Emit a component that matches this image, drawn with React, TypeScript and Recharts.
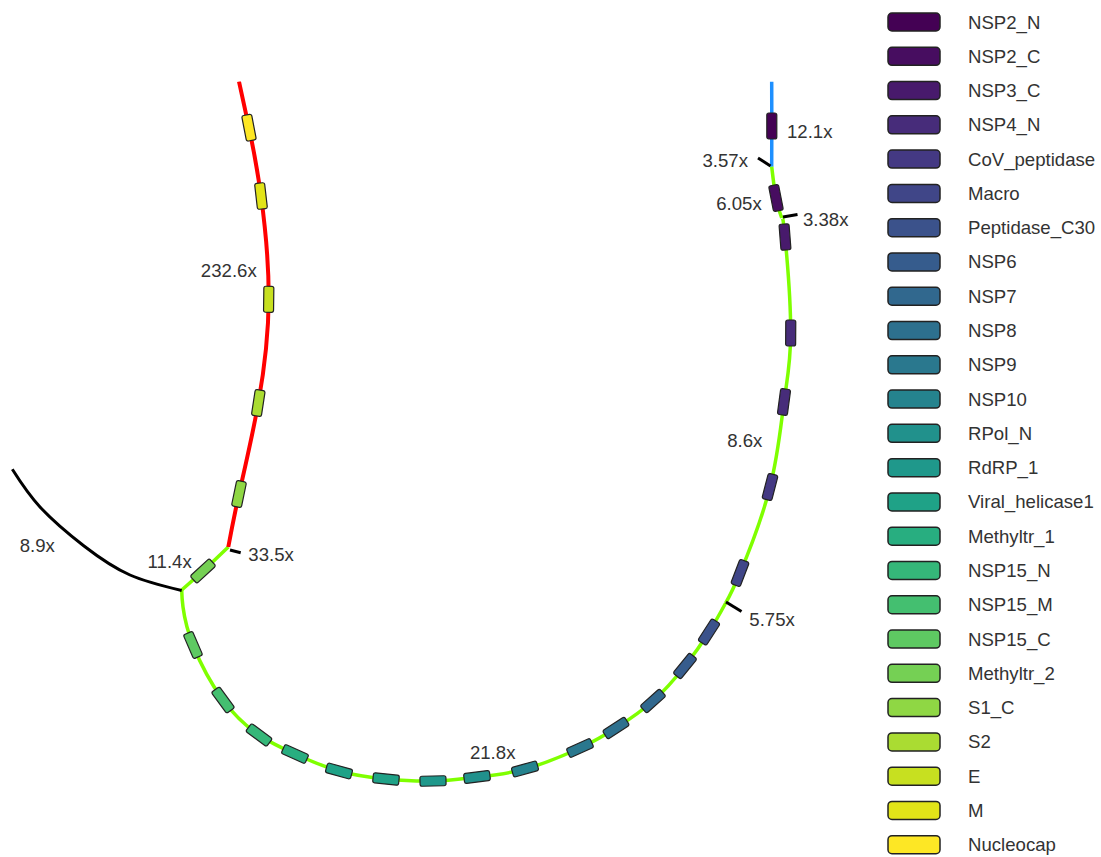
import React from 'react';
import { ComposedChart, Line, Scatter, XAxis, YAxis } from 'recharts';

// domain names in legend order (viridis ramp)
const DOMAINS = [
  'NSP2_N', 'NSP2_C', 'NSP3_C', 'NSP4_N', 'CoV_peptidase', 'Macro', 'Peptidase_C30',
  'NSP6', 'NSP7', 'NSP8', 'NSP9', 'NSP10', 'RPol_N', 'RdRP_1', 'Viral_helicase1',
  'Methyltr_1', 'NSP15_N', 'NSP15_M', 'NSP15_C', 'Methyltr_2', 'S1_C', 'S2', 'E', 'M',
  'Nucleocap',
];

const DOMAIN_COLORS = [
  '#440154', '#470d60', '#481a6c', '#472c7a', '#443983', '#404688', '#3b528b',
  '#365c8d', '#31688e', '#2d708e', '#2a788e', '#25838e', '#21918c', '#1f988b',
  '#1fa287', '#28ae80', '#35b779', '#44bf70', '#5ec962', '#75d054', '#8fd744',
  '#aadc32', '#c7e020', '#e2e418', '#fde725',
];

type Pt = { x: number; y: number; domain?: string };

// graph layout, one list per contig (drawing units = px)
const CONTIG_12_1: Pt[] = [
  { x: 771.7, y: 81.7 },
  { x: 771.8, y: 126, domain: 'NSP2_N' },
  { x: 771.7, y: 166.7 },
];

const CONTIG_6_05: Pt[] = [
  { x: 771.7, y: 166.7 },
  { x: 776, y: 198, domain: 'NSP2_C' },
  { x: 781.7, y: 218 },
];

const CONTIG_8_6: Pt[] = [
  { x: 781.7, y: 218 },
  { x: 785, y: 237, domain: 'NSP3_C' },
  { x: 790.7, y: 333, domain: 'NSP4_N' },
  { x: 784, y: 402, domain: 'NSP4_N' },
  { x: 770, y: 487, domain: 'CoV_peptidase' },
  { x: 740, y: 573, domain: 'Macro' },
  { x: 725.7, y: 603 },
];

const CONTIG_21_8: Pt[] = [
  { x: 725.7, y: 603 },
  { x: 709, y: 632, domain: 'Peptidase_C30' },
  { x: 685, y: 666, domain: 'NSP6' },
  { x: 653, y: 701, domain: 'NSP7' },
  { x: 616, y: 728, domain: 'NSP8' },
  { x: 580, y: 748, domain: 'NSP9' },
  { x: 525, y: 769, domain: 'NSP10' },
  { x: 477, y: 777, domain: 'RPol_N' },
  { x: 433, y: 781, domain: 'RdRP_1' },
  { x: 386, y: 779, domain: 'Viral_helicase1' },
  { x: 339, y: 771, domain: 'Viral_helicase1' },
  { x: 295, y: 754, domain: 'Methyltr_1' },
  { x: 259, y: 735, domain: 'NSP15_N' },
  { x: 223, y: 700, domain: 'NSP15_M' },
  { x: 193, y: 645, domain: 'NSP15_C' },
  { x: 183, y: 607 },
  { x: 181.7, y: 590 },
];

const CONTIG_11_4: Pt[] = [
  { x: 181.7, y: 590 },
  { x: 203, y: 571, domain: 'Methyltr_2' },
  { x: 228.3, y: 547 },
];

const CONTIG_232_6: Pt[] = [
  { x: 228.3, y: 547 },
  { x: 239, y: 494, domain: 'S1_C' },
  { x: 258.3, y: 403, domain: 'S2' },
  { x: 268.7, y: 299.3, domain: 'E' },
  { x: 261, y: 196, domain: 'M' },
  { x: 249, y: 127.7, domain: 'Nucleocap' },
  { x: 239, y: 81.7 },
];

const CONTIG_8_9: Pt[] = [
  { x: 12.3, y: 469.3 },
  { x: 40, y: 507 },
  { x: 84, y: 546 },
  { x: 130, y: 575 },
  { x: 181.7, y: 590.5 },
];

// tiny contigs
const CONTIG_3_57: Pt[] = [{ x: 758, y: 158 }, { x: 770.5, y: 166 }];
const CONTIG_3_38: Pt[] = [{ x: 783, y: 217 }, { x: 797.5, y: 214.5 }];
const CONTIG_33_5: Pt[] = [{ x: 230, y: 550 }, { x: 240.7, y: 552.7 }];
const CONTIG_5_75: Pt[] = [{ x: 726, y: 602 }, { x: 741.5, y: 611.5 }];

const COVERAGE_LABELS = [
  { x: 787, y: 131, text: '12.1x', anchor: 'start' },
  { x: 748, y: 160, text: '3.57x', anchor: 'end' },
  { x: 761.7, y: 203, text: '6.05x', anchor: 'end' },
  { x: 803, y: 219, text: '3.38x', anchor: 'start' },
  { x: 762.3, y: 440, text: '8.6x', anchor: 'end' },
  { x: 749.3, y: 619, text: '5.75x', anchor: 'start' },
  { x: 492.7, y: 752.7, text: '21.8x', anchor: 'middle' },
  { x: 256.7, y: 270.7, text: '232.6x', anchor: 'end' },
  { x: 248.3, y: 554, text: '33.5x', anchor: 'start' },
  { x: 191.7, y: 561.7, text: '11.4x', anchor: 'end' },
  { x: 37.3, y: 545, text: '8.9x', anchor: 'middle' },
];

const CONTIGS = [
  { id: 'c12', points: CONTIG_12_1, color: '#1e90ff', width: 3.5 },
  { id: 'c605', points: CONTIG_6_05, color: '#7fff00', width: 3.5 },
  { id: 'c86', points: CONTIG_8_6, color: '#7fff00', width: 3.5 },
  { id: 'c218', points: CONTIG_21_8, color: '#7fff00', width: 3.5 },
  { id: 'c114', points: CONTIG_11_4, color: '#7fff00', width: 3.5 },
  { id: 'c2326', points: CONTIG_232_6, color: '#ff0000', width: 4 },
  { id: 'c89', points: CONTIG_8_9, color: '#000000', width: 3 },
  { id: 'c357', points: CONTIG_3_57, color: '#000000', width: 3 },
  { id: 'c338', points: CONTIG_3_38, color: '#000000', width: 3 },
  { id: 'c335', points: CONTIG_33_5, color: '#000000', width: 3 },
  { id: 'c575', points: CONTIG_5_75, color: '#000000', width: 3 },
];

const FONT = '"Liberation Sans", Arial, sans-serif';
const W = 870;
const H = 857;

// domain hits with the direction of the contig at that point
const markers = CONTIGS.flatMap(({ points }) =>
  points.flatMap((p, i) => {
    if (!p.domain) return [];
    const a = points[Math.max(0, i - 1)];
    const b = points[Math.min(points.length - 1, i + 1)];
    const angle = (Math.atan2(b.y - a.y, b.x - a.x) * 180) / Math.PI;
    return [{ x: p.x, y: p.y, domain: p.domain, angle }];
  })
);

const DomainBox = (props: any) => {
  const { cx, cy, payload } = props;
  if (cx == null || cy == null) return <g />;
  const fill = DOMAIN_COLORS[DOMAINS.indexOf(payload.domain)];
  return (
    <rect
      x={-13}
      y={-5}
      width={26}
      height={10}
      rx={2}
      fill={fill}
      stroke="#222"
      strokeWidth={1.2}
      transform={`translate(${cx},${cy}) rotate(${payload.angle})`}
    />
  );
};

const CoverageText = (props: any) => {
  const { cx, cy, payload } = props;
  if (cx == null || cy == null) return <g />;
  return (
    <text
      x={cx}
      y={cy}
      textAnchor={payload.anchor}
      dominantBaseline="central"
      fontSize={18.6}
      fontFamily={FONT}
      fill="#333"
    >
      {payload.text}
    </text>
  );
};

const DomainLegend = () => (
  <svg width={231} height={H} style={{ position: 'absolute', left: W, top: 0 }}>
    {DOMAINS.map((name, i) => {
      const cy = 22 + i * 34.28;
      return (
        <g key={name}>
          <rect
            x={18}
            y={cy - 9}
            width={52}
            height={18}
            rx={4}
            fill={DOMAIN_COLORS[i]}
            stroke="#222"
            strokeWidth={1.5}
          />
          <text
            x={98}
            y={cy}
            dominantBaseline="central"
            fontSize={18.6}
            fontFamily={FONT}
            fill="#333"
          >
            {name}
          </text>
        </g>
      );
    })}
  </svg>
);

export default function App() {
  return (
    <div style={{ position: 'absolute', left: 0, top: 0, width: 1101, height: H, background: '#fff' }}>
      <ComposedChart width={W} height={H} margin={{ top: 0, right: 0, bottom: 0, left: 0 }}>
        <XAxis type="number" dataKey="x" domain={[0, W]} allowDataOverflow hide />
        <YAxis type="number" dataKey="y" domain={[0, H]} allowDataOverflow reversed hide />
        {CONTIGS.map((c) => (
          <Line
            key={c.id}
            data={c.points}
            dataKey="y"
            type={c.points.length > 2 ? 'natural' : 'linear'}
            stroke={c.color}
            strokeWidth={c.width}
            dot={false}
            activeDot={false}
            isAnimationActive={false}
          />
        ))}
        <Scatter data={markers} dataKey="y" shape={DomainBox} isAnimationActive={false} />
        <Scatter data={COVERAGE_LABELS} dataKey="y" shape={CoverageText} isAnimationActive={false} />
      </ComposedChart>
      <DomainLegend />
    </div>
  );
}
